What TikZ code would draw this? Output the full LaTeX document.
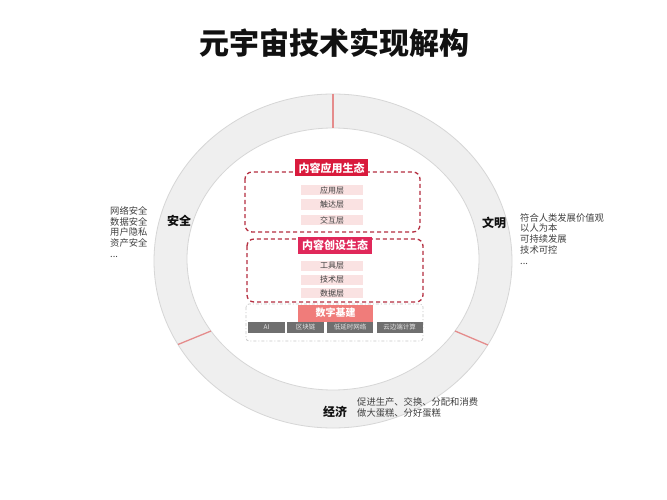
\documentclass[tikz,border=0pt]{standalone}
\usepackage{fontspec}
\setmainfont{Noto Sans CJK SC}
\usepackage{xcolor}
\usepackage{tikz}
\usetikzlibrary{calc}
\definecolor{bg}{HTML}{FFFFFF}
\definecolor{ink}{HTML}{111111}
\definecolor{muted}{HTML}{404040}
\definecolor{ringbg}{HTML}{EFEFEF}
\definecolor{ringline}{HTML}{D6D6D6}
\definecolor{tick}{HTML}{E58C8C}
\definecolor{crimson}{HTML}{D91A3C}
\definecolor{rose}{HTML}{E0285A}
\definecolor{dashred}{HTML}{B52E40}
\definecolor{layerbg}{HTML}{FAE2E2}
\definecolor{salmon}{HTML}{F07C7A}
\definecolor{chipbg}{HTML}{6F6F6F}
\definecolor{chiptext}{HTML}{E4E4E4}
\definecolor{basedash}{HTML}{C9C9C9}
\tikzset{
  headline/.style={font=\fontsize{30}{30}\selectfont\bfseries, text=ink},
  pillar/.style={font=\fontsize{12}{12}\selectfont\bfseries, text=ink, inner sep=0pt},
  bullets/.style={
    font=\fontsize{9.3}{10.9}\selectfont,
    text=muted,
    align=left,
    inner sep=0pt
  },
  eco/.style={draw=dashred, dash pattern=on 4pt off 3pt, line width=1.3pt, rounded corners=7pt},
  basebox/.style={draw=basedash, dash pattern=on 3pt off 2pt on 1pt off 2pt, line width=0.8pt, rounded corners=3pt},
  tag/.style={
    text=white,
    font=\fontsize{11}{11}\selectfont\bfseries,
    minimum height=17pt,
    inner sep=0pt
  },
  layer/.style={fill=layerbg, text=muted, font=\fontsize{8}{8}\selectfont, minimum width=62pt, minimum height=10pt, inner sep=0pt},
  infra/.style={fill=salmon, text=white, font=\fontsize{10}{10}\selectfont\bfseries, minimum width=75pt, minimum height=17pt, inner sep=0pt},
  chip/.style={fill=chipbg, text=chiptext, font=\fontsize{6.5}{6.5}\selectfont, minimum height=11pt, inner sep=0pt},
  ticks/.style={draw=tick, line width=1.3pt}
}

\begin{document}
\begin{tikzpicture}[x=1pt, y=-1pt]
  \useasboundingbox (0,0) rectangle (667,500);
  \fill[bg] (0,0) rectangle (667,500);

  \node[headline] (title) at (334,43) {元宇宙技术实现解构};

  % ring
  \fill[ringbg, draw=ringline, line width=0.8pt] (333,261) ellipse [x radius=179pt, y radius=167pt];
  \fill[bg, draw=ringline, line width=0.8pt] (333,259) ellipse [x radius=146pt, y radius=131pt];
  \draw[ticks] (333,94) -- (333,128);
  \draw[ticks] (178,344.5) -- (211,331);
  \draw[ticks] (455,331) -- (488,345);

  \node[pillar] (safe) at (179,221) {安全};
  \node[pillar] (civil) at (494,223) {文明};
  \node[pillar] (econ) at (335,412) {经济};

  \node[bullets, anchor=north west] (safelist) at (110,206) {网络安全\\数据安全\\用户隐私\\资产安全\\...};
  \node[bullets, anchor=north west] (civillist) at (520,213) {符合人类发展价值观\\以人为本\\可持续发展\\技术可控\\...};
  \node[bullets, anchor=north west] (econlist) at (357,397.5) {促进生产、交换、分配和消费\\做大蛋糕、分好蛋糕};

  % content ecosystems
  \draw[eco] (245,172) rectangle (420,232);
  \draw[eco] (247,239) rectangle (423,302);
  \draw[basebox] (246,304) rectangle (423,341);

  \node[tag, fill=crimson, minimum width=73pt] (apptag) at (331.5,168) {内容应用生态};
  \node[layer] (app) at (332,190) {应用层};
  \node[layer] (reach) at (332,204.5) {触达层};
  \node[layer] (inter) at (332,220) {交互层};

  \node[tag, fill=rose, minimum width=74pt] (maketag) at (335,245.5) {内容创设生态};
  \node[layer] (tool) at (332,266) {工具层};
  \node[layer] (tech) at (332,279.5) {技术层};
  \node[layer] (data) at (332,293) {数据层};

  \node[infra] (infra) at (335.5,313) {数字基建};
  \node[chip, minimum width=37pt] (ai) at (266.5,327.5) {AI};
  \node[chip, minimum width=37pt] (chain) at (305.5,327.5) {区块链};
  \node[chip, minimum width=46pt] (net) at (350,327.5) {低延时网络};
  \node[chip, minimum width=46pt] (cloud) at (399.5,327.5) {云边端计算};
\end{tikzpicture}
\end{document}
